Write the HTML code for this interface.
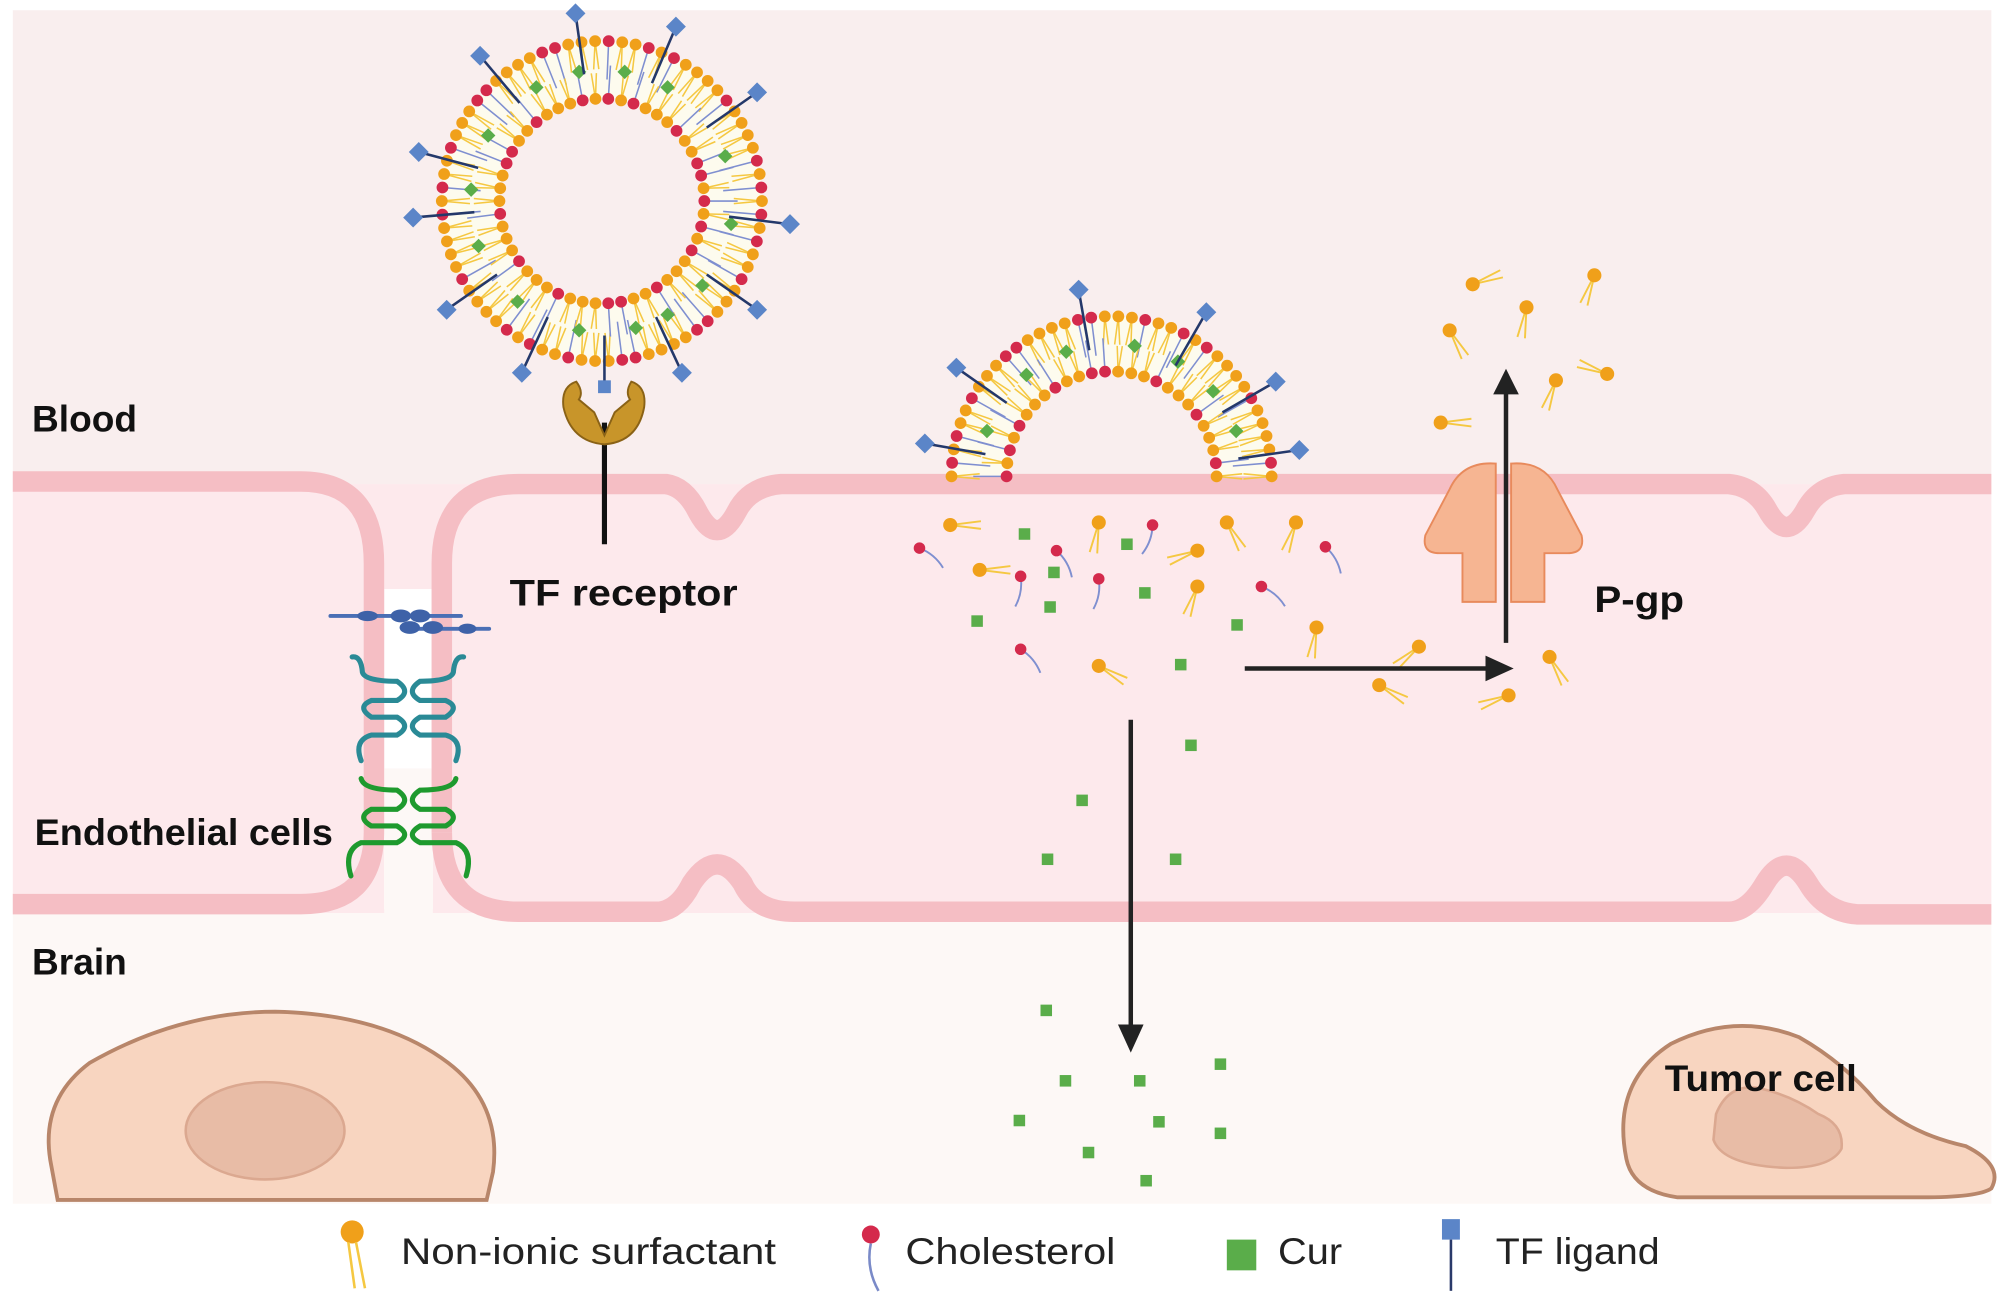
<!DOCTYPE html>
<html><head><meta charset="utf-8"><style>
html,body{margin:0;padding:0;background:#fff;}
svg{display:block;}
text{font-family:"Liberation Sans",sans-serif;}
</style></head><body>
<svg id="s" width="2008" height="1303" viewBox="0 0 1568 1017.5" preserveAspectRatio="none" xmlns="http://www.w3.org/2000/svg">
<rect x="0" y="0" width="1568" height="1018" fill="#fff"/>
<rect x="10" y="8" width="1545" height="370" fill="#f9eeee"/>
<rect x="10" y="378" width="1545" height="335" fill="#fde9ec"/>
<rect x="10" y="713" width="1545" height="227" fill="#fdf8f6"/>
<rect x="300" y="460" width="38" height="250" fill="#fff"/>
<rect x="300" y="600" width="38" height="120" fill="#fdf8f6"/>
<g fill="none" stroke="#f5bec4" stroke-width="16">
<path d="M10,376 L235,376 Q292,376 292,440 L292,650 Q292,706 235,706 L10,706"/>
<path d="M345,650 L345,440 Q345,378 405,378 L520,378 Q535,380 545,400 Q560,428 575,400 Q585,380 610,378 L1350,378 Q1370,380 1380,398 Q1395,425 1410,398 Q1420,380 1440,378 L1555,378"/>
<path d="M345,650 Q345,712 405,712 L515,712 Q530,710 540,690 Q560,660 580,690 Q590,712 620,712 L1350,712 Q1365,712 1378,690 Q1395,662 1412,690 Q1425,712 1450,714 L1555,714"/>
</g>
<g fill="none" stroke-linecap="round">
<path d="M258,481 L360,481 M322,491 L382,491" stroke="#4a6fb5" stroke-width="3"/>
<g fill="#3e62a8"><ellipse cx="287" cy="481" rx="8" ry="4"/><ellipse cx="313" cy="481" rx="8" ry="5"/><ellipse cx="328" cy="481" rx="8" ry="5"/><ellipse cx="320" cy="490" rx="8" ry="5"/><ellipse cx="338" cy="490" rx="8" ry="5"/><ellipse cx="365" cy="491" rx="7" ry="4"/></g>
<path d="M275,513 Q282,512 283,525 Q285,532 310,532 Q322,540 310,547 L290,547 Q278,552 290,560 L310,560 Q322,567 310,574 L290,574 Q276,578 282,594" stroke="#2a8a96" stroke-width="4"/>
<path d="M362,513 Q355,512 354,525 Q352,532 328,532 Q316,540 328,547 L348,547 Q360,552 348,560 L328,560 Q316,567 328,574 L348,574 Q362,578 356,594" stroke="#2a8a96" stroke-width="4"/>
<path d="M282,608 Q284,617 310,617 Q322,625 310,632 L290,632 Q278,638 290,645 L310,645 Q322,652 310,658 L282,658 Q268,664 274,684" stroke="#1e9a2e" stroke-width="4"/>
<path d="M356,608 Q354,617 328,617 Q316,625 328,632 L348,632 Q360,638 348,645 L328,645 Q316,652 328,658 L356,658 Q370,664 364,684" stroke="#1e9a2e" stroke-width="4"/>
</g>
<line x1="472" y1="330" x2="472" y2="425" stroke="#111" stroke-width="4"/>
<path d="M450,298 Q438,302 440,318 Q446,345 472,347 Q498,345 503,318 Q505,302 493,298 Q488,306 492,312 L480,322 L472,340 L464,322 L452,312 Q456,306 450,298Z" fill="#c8952a" stroke="#8a6216" stroke-width="1.5"/>
<g id="dyn"></g>
<g fill="#f6b592" stroke="#e88a5c" stroke-width="1.5">
<path d="M1168,362 Q1142,360 1132,382 L1113,418 Q1110,432 1124,432 L1142,432 L1142,470 L1168,470Z"/>
<path d="M1180,362 Q1206,360 1216,382 L1235,418 Q1238,432 1224,432 L1206,432 L1206,470 L1180,470Z"/>
</g>
<g stroke="#222" stroke-width="3.5" fill="#222">
<line x1="1176" y1="502" x2="1176" y2="305"/><path d="M1166,308 L1176,288 L1186,308Z" stroke="none"/>
<line x1="972" y1="522" x2="1165" y2="522"/><path d="M1160,512 L1182,522 L1160,532Z" stroke="none"/>
<line x1="883" y1="562" x2="883" y2="805"/><path d="M873,800 L883,822 L893,800Z" stroke="none"/>
</g>
<path d="M40,910 Q30,860 70,830 Q140,790 215,790 Q300,792 350,830 Q392,862 385,915 L380,937 L45,937Z" fill="#f8d5c0" stroke="#b8866a" stroke-width="3"/>
<ellipse cx="207" cy="883" rx="62" ry="38" fill="#e8bca6" stroke="#dba890" stroke-width="2"/>
<path d="M1270,905 Q1258,845 1305,815 Q1355,790 1405,810 Q1440,830 1465,860 Q1490,885 1535,895 Q1565,910 1555,928 Q1545,935 1500,935 L1310,935 Q1275,930 1270,905Z" fill="#f8d5c0" stroke="#b8866a" stroke-width="3"/>
<path d="M1340,870 Q1350,845 1375,850 Q1400,856 1420,870 Q1440,878 1438,897 Q1430,912 1395,912 Q1345,910 1338,890Z" fill="#e8bca6" stroke="#dba890" stroke-width="2"/>
<g font-size="29" fill="#111" font-weight="bold" lengthAdjust="spacingAndGlyphs">
<text x="25" y="337" textLength="82" lengthAdjust="spacingAndGlyphs">Blood</text>
<text x="398" y="473" textLength="178" lengthAdjust="spacingAndGlyphs">TF receptor</text>
<text x="27" y="660" textLength="233" lengthAdjust="spacingAndGlyphs">Endothelial cells</text>
<text x="25" y="761" textLength="74" lengthAdjust="spacingAndGlyphs">Brain</text>
<text x="1245" y="478" textLength="70" lengthAdjust="spacingAndGlyphs">P-gp</text>
<text x="1300" y="852" textLength="150" lengthAdjust="spacingAndGlyphs">Tumor cell</text>
</g>
<g font-size="29" fill="#222">
<text x="313" y="987" textLength="293" lengthAdjust="spacingAndGlyphs">Non-ionic surfactant</text>
<text x="707" y="987" textLength="164" lengthAdjust="spacingAndGlyphs">Cholesterol</text>
<text x="998" y="987" textLength="50" lengthAdjust="spacingAndGlyphs">Cur</text>
<text x="1168" y="987" textLength="128" lengthAdjust="spacingAndGlyphs">TF ligand</text>
</g>
<circle cx="275" cy="962" r="9" fill="#f0a01a"/>
<path d="M272,970 L277,1006 M278,970 L285,1006" stroke="#f5c842" stroke-width="2" fill="none"/>
<circle cx="680" cy="964" r="7" fill="#d42a4c"/>
<path d="M680,971 Q676,990 686,1008" stroke="#7a8ac8" stroke-width="2" fill="none"/>
<rect x="958" y="968" width="23" height="24" fill="#5aad4a"/>
<rect x="1126" y="952" width="14" height="16" fill="#5b85c8"/>
<line x1="1133" y1="968" x2="1133" y2="1008" stroke="#2a3a6a" stroke-width="2"/>
</svg>
<script>
var g=document.getElementById("dyn"),h="";
function cl(a,b,c,d,col,w){h+='<line x1="'+a.toFixed(1)+'" y1="'+b.toFixed(1)+'" x2="'+c.toFixed(1)+'" y2="'+d.toFixed(1)+'" stroke="'+col+'" stroke-width="'+w+'"/>';}
function ci(x,y,r,c){h+='<circle cx="'+x.toFixed(1)+'" cy="'+y.toFixed(1)+'" r="'+r+'" fill="'+c+'"/>';}
function sq(x,y,s,c,rot){h+='<rect x="'+(x-s/2).toFixed(1)+'" y="'+(y-s/2).toFixed(1)+'" width="'+s+'" height="'+s+'" fill="'+c+'"'+(rot?' transform="rotate(45 '+x.toFixed(1)+' '+y.toFixed(1)+')"':'')+'/>';}
function ves(cx,cy,Ro,Ri,a0,a1,nO,nI,ligs,curs){
 var Rm=(Ro+Ri)/2,full=(a1-a0)>6;
 if(full){h+='<circle cx="'+cx+'" cy="'+cy+'" r="'+Rm+'" fill="none" stroke="#fdfbee" stroke-width="'+(Ro-Ri)+'"/>';}
 else{h+='<path d="M'+(cx-Rm)+','+cy+' A'+Rm+','+Rm+' 0 0 1 '+(cx+Rm)+','+cy+'" fill="none" stroke="#fdfbee" stroke-width="'+(Ro-Ri)+'"/>';}
 for(var i=0;i<nO;i++){var a=a0+(a1-a0)*i/(nO-(full?0:1));var c=Math.cos(a),s=Math.sin(a);
  var red=(i%5==1)||(i%7==3);
  if(red){cl(cx+Ro*c,cy+Ro*s,cx+(Ro-30)*c,cy+(Ro-30)*s,"#7f8fd0",1.2);}
  else{cl(cx+Ro*c,cy+Ro*s,cx+(Ro-22)*c+2*s,cy+(Ro-22)*s-2*c,"#f5c842",1.2);cl(cx+Ro*c,cy+Ro*s,cx+(Ro-22)*c-2*s,cy+(Ro-22)*s+2*c,"#f5c842",1.2);}
 }
 for(var i=0;i<nI;i++){var a=a0+(a1-a0)*i/(nI-(full?0:1));var c=Math.cos(a),s=Math.sin(a);
  var red=(i%4==0)||(i%9==2);
  if(red){cl(cx+Ri*c,cy+Ri*s,cx+(Ri+26)*c,cy+(Ri+26)*s,"#7f8fd0",1.2);}
  else{cl(cx+Ri*c,cy+Ri*s,cx+(Ri+20)*c+2*s,cy+(Ri+20)*s-2*c,"#f5c842",1.2);cl(cx+Ri*c,cy+Ri*s,cx+(Ri+20)*c-2*s,cy+(Ri+20)*s+2*c,"#f5c842",1.2);}
 }
 for(var k=0;k<curs.length;k++){var a=curs[k];sq(cx+Rm*Math.cos(a),cy+Rm*Math.sin(a),8,"#5aad4a",true);}
 for(var i=0;i<nO;i++){var a=a0+(a1-a0)*i/(nO-(full?0:1));var red=(i%5==1)||(i%7==3);ci(cx+Ro*Math.cos(a),cy+Ro*Math.sin(a),4.6,red?"#d42a4c":"#f0a01a");}
 for(var i=0;i<nI;i++){var a=a0+(a1-a0)*i/(nI-(full?0:1));var red=(i%4==0)||(i%9==2);ci(cx+Ri*Math.cos(a),cy+Ri*Math.sin(a),4.6,red?"#d42a4c":"#f0a01a");}
 for(var k=0;k<ligs.length;k++){var a=ligs[k],c=Math.cos(a),s=Math.sin(a);
  cl(cx+(Ro-25)*c,cy+(Ro-25)*s,cx+(Ro+20)*c,cy+(Ro+20)*s,"#24386a",2);
  sq(cx+(Ro+23)*c,cy+(Ro+23)*s,11,"#5b85c8",true);}
}
var d=Math.PI/180;
ves(470,157,125,80,0,2*Math.PI,74,50,[-98*d,-67*d,-35*d,7*d,35*d,65*d,115*d,145*d,175*d,195*d,-130*d],[-100*d,-80*d,-60*d,-20*d,10*d,40*d,60*d,75*d,100*d,130*d,160*d,185*d,-150*d,-120*d]);
ves(868,372,125,82,Math.PI,2*Math.PI,38,26,[-170*d,-145*d,-100*d,-60*d,-30*d,-8*d],[-160*d,-130*d,-110*d,-80*d,-60*d,-40*d,-20*d]);
cl(472,262,472,300,"#24386a",2);sq(472,302,10,"#5b85c8",false);
function surf(x,y,ang){var a=ang*d,c=Math.cos(a),s=Math.sin(a);
 cl(x,y,x+24*c+3*s,y+24*s-3*c,"#f5c842",1.5);cl(x,y,x+24*c-3*s,y+24*s+3*c,"#f5c842",1.5);ci(x,y,5.5,"#f0a01a");}
function chol(x,y,ang){var a=ang*d,c=Math.cos(a),s=Math.sin(a);
 h+='<path d="M'+x+','+y+' q'+(12*c+4*s).toFixed(1)+','+(12*s-4*c).toFixed(1)+' '+(24*c).toFixed(1)+','+(24*s).toFixed(1)+'" stroke="#7f8fd0" stroke-width="1.5" fill="none"/>';ci(x,y,4.5,"#d42a4c");}
[[742,410,0],[765,445,0],[858,408,100],[935,430,160],[958,408,60],[1012,408,110],[935,458,110],[858,520,30],[1028,490,100],[1108,505,140],[1077,535,30],[1178,543,160],[1210,513,60],[1150,222,-20],[1192,240,100],[1245,215,110],[1132,258,60],[1255,292,200],[1215,297,110],[1125,330,0]].forEach(function(p){surf(p[0],p[1],p[2]);});
[[718,428,40],[825,430,60],[900,410,110],[797,450,100],[858,452,100],[985,458,40],[1035,427,60],[797,507,50]].forEach(function(p){chol(p[0],p[1],p[2]);});
[[800,417],[880,425],[823,447],[820,474],[894,463],[763,485],[966,488],[922,519],[930,582],[845,625],[818,671],[918,671],[817,789],[953,831],[832,844],[890,844],[905,876],[796,875],[953,885],[850,900],[895,922]].forEach(function(p){sq(p[0],p[1],9,"#5aad4a",false);});
g.innerHTML=h;
</script>
</body></html>
